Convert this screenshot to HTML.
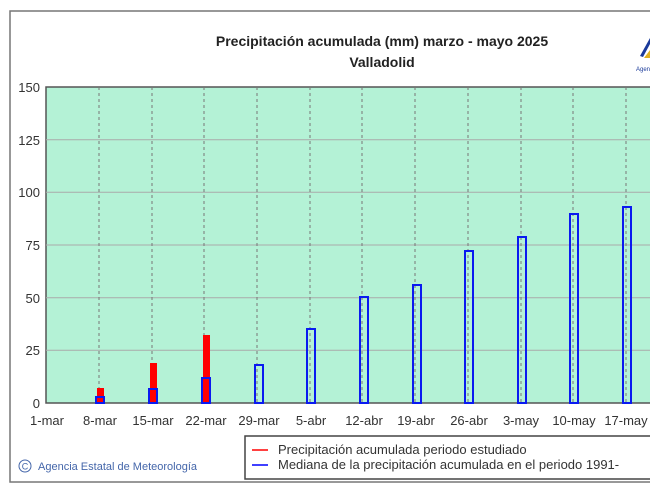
<!DOCTYPE html>
<html><head><meta charset="utf-8"><style>
body{margin:0;background:#fff;}
svg{display:block;font-family:"Liberation Sans",sans-serif;}
</style></head><body>
<svg width="650" height="487" xmlns="http://www.w3.org/2000/svg">
<rect x="0" y="0" width="650" height="487" fill="#fff"/>
<rect x="10" y="11" width="645" height="471" fill="#fff" stroke="#777" stroke-width="1.5"/>
<text x="382" y="46" font-size="14" font-weight="bold" text-anchor="middle" fill="#222">Precipitación acumulada (mm) marzo - mayo 2025</text>
<text x="382" y="67" font-size="14" font-weight="bold" text-anchor="middle" fill="#222">Valladolid</text>
<path d="M640 56 L650 38 L650 44 L643 57 Z" fill="#1a3a9a"/>
<path d="M644 58 L650 50 L650 58 Z" fill="#e0b020"/>
<text x="636" y="71" font-size="6" fill="#1a3a9a">Agen</text>
<rect x="46" y="87" width="610" height="316" fill="#b4f2d6" stroke="#555" stroke-width="1.5"/>
<g stroke="#aaa" stroke-width="1">
<line x1="46" y1="139.7" x2="650" y2="139.7"/>
<line x1="46" y1="192.3" x2="650" y2="192.3"/>
<line x1="46" y1="245" x2="650" y2="245"/>
<line x1="46" y1="297.7" x2="650" y2="297.7"/>
<line x1="46" y1="350.3" x2="650" y2="350.3"/>
</g>
<g stroke="#777" stroke-width="1" stroke-dasharray="3,3">
<line x1="99" y1="87" x2="99" y2="403"/><line x1="152" y1="87" x2="152" y2="403"/>
<line x1="204" y1="87" x2="204" y2="403"/><line x1="257" y1="87" x2="257" y2="403"/>
<line x1="310" y1="87" x2="310" y2="403"/><line x1="362" y1="87" x2="362" y2="403"/>
<line x1="415" y1="87" x2="415" y2="403"/><line x1="468" y1="87" x2="468" y2="403"/>
<line x1="521" y1="87" x2="521" y2="403"/><line x1="573" y1="87" x2="573" y2="403"/>
<line x1="626" y1="87" x2="626" y2="403"/>
</g>
<g fill="#f00">
<rect x="97" y="388" width="7" height="15"/>
<rect x="150" y="363" width="7" height="40"/>
<rect x="203" y="335" width="7" height="68"/>
</g>
<g fill="none" stroke="#0a1af0" stroke-width="2">
<rect x="96" y="397" width="8" height="6"/>
<rect x="149" y="389" width="8" height="14"/>
<rect x="202" y="378" width="8" height="25"/>
<rect x="255" y="365" width="8" height="38"/>
<rect x="307" y="329" width="8" height="74"/>
<rect x="360" y="297" width="8" height="106"/>
<rect x="413" y="285" width="8" height="118"/>
<rect x="465" y="251" width="8" height="152"/>
<rect x="518" y="237" width="8" height="166"/>
<rect x="570" y="214" width="8" height="189"/>
<rect x="623" y="207" width="8" height="196"/>
</g>
<g font-size="13" fill="#333" text-anchor="end">
<text x="40" y="92">150</text><text x="40" y="145">125</text><text x="40" y="197">100</text>
<text x="40" y="250">75</text><text x="40" y="303">50</text><text x="40" y="355">25</text><text x="40" y="408">0</text>
</g>
<g font-size="13" fill="#333" text-anchor="middle">
<text x="47" y="425">1-mar</text><text x="100" y="425">8-mar</text><text x="153" y="425">15-mar</text>
<text x="206" y="425">22-mar</text><text x="259" y="425">29-mar</text><text x="311" y="425">5-abr</text>
<text x="364" y="425">12-abr</text><text x="416" y="425">19-abr</text><text x="469" y="425">26-abr</text>
<text x="521" y="425">3-may</text><text x="574" y="425">10-may</text><text x="626" y="425">17-may</text>
</g>
<rect x="245" y="436" width="410" height="43" fill="#fff" stroke="#444" stroke-width="1.5"/>
<line x1="252" y1="450" x2="268" y2="450" stroke="#f00" stroke-width="1.5"/>
<line x1="252" y1="465" x2="268" y2="465" stroke="#00f" stroke-width="1.5"/>
<text x="278" y="454" font-size="13" fill="#333">Precipitación acumulada periodo estudiado</text>
<text x="278" y="469" font-size="13" fill="#333">Mediana de la precipitación acumulada en el periodo 1991-</text>
<circle cx="25" cy="466" r="6" fill="none" stroke="#46a" stroke-width="1"/>
<text x="25" y="469.5" font-size="9" fill="#46a" text-anchor="middle">C</text>
<text x="38" y="470" font-size="11" fill="#4466aa">Agencia Estatal de Meteorología</text>
</svg>
</body></html>
